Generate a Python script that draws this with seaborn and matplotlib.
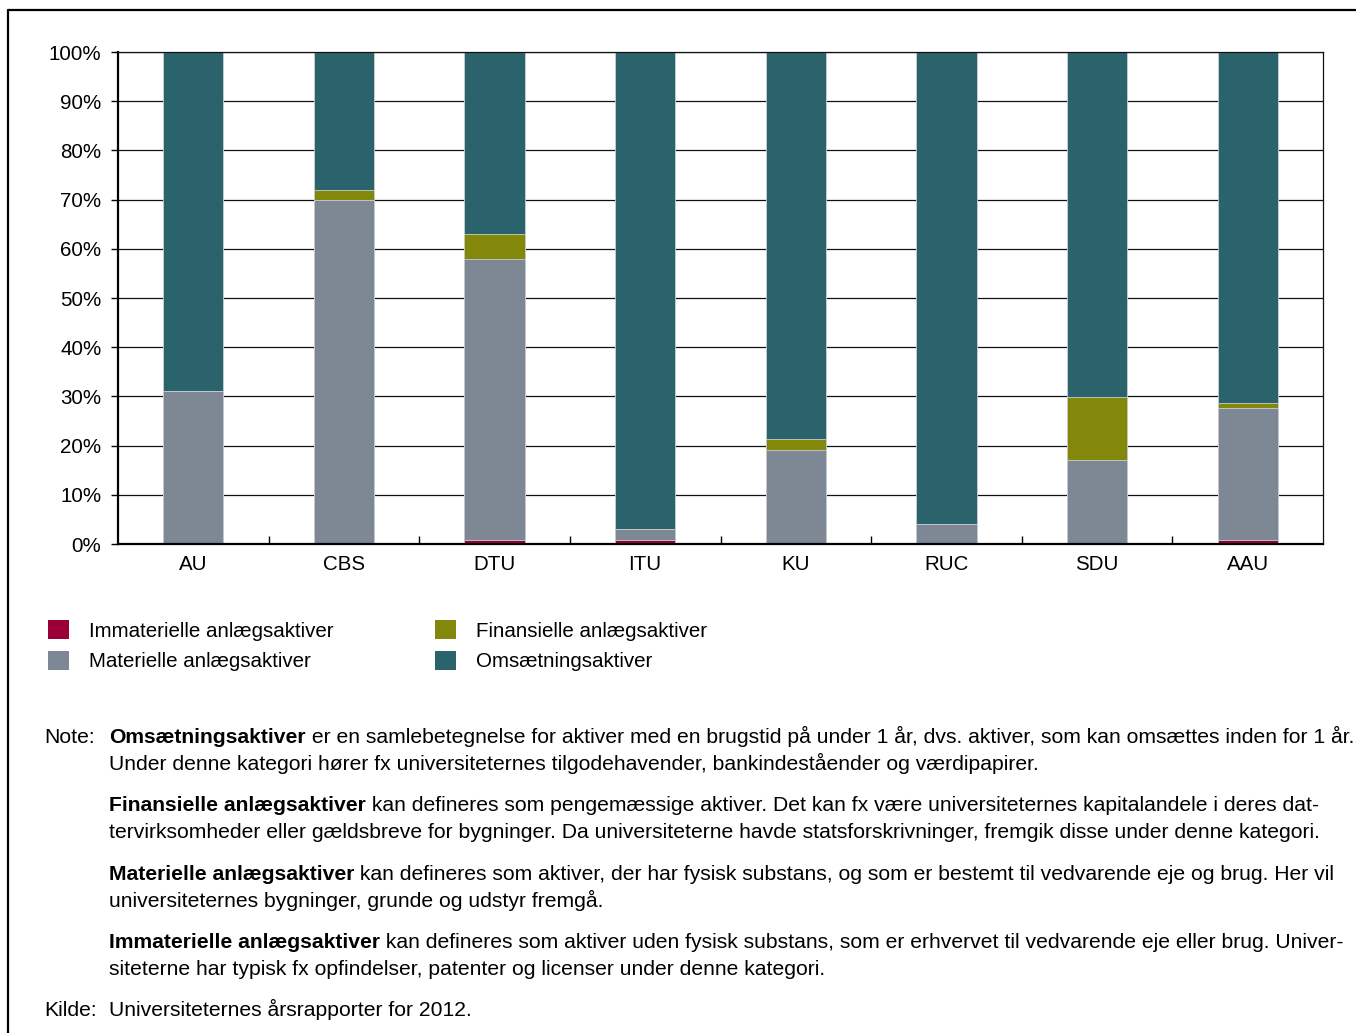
import pandas as pd
import matplotlib
matplotlib.use("Agg")
import matplotlib.pyplot as plt
import seaborn as sns
from matplotlib.patches import Patch
from matplotlib.lines import Line2D
from matplotlib.ticker import FixedLocator

# Data (share of total assets, %)
universities = ["AU", "CBS", "DTU", "ITU", "KU", "RUC", "SDU", "AAU"]
immaterielle = [0, 0, 0.9, 0.9, 0, 0, 0, 0.9]
materielle = [31.1, 69.9, 57.0, 2.1, 19.1, 4.1, 17.0, 26.8]
finansielle = [0, 2.1, 5.1, 0, 2.2, 0, 12.9, 1.0]
omsaetning = [68.9, 28.0, 37.0, 97.0, 78.7, 95.9, 70.1, 71.3]

series_names = ["Immaterielle anlægsaktiver", "Materielle anlægsaktiver",
                "Finansielle anlægsaktiver", "Omsætningsaktiver"]
colors = ["#9a0036", "#7e8794", "#83870a", "#2a636c"]
y_labels = ["0%", "10%", "20%", "30%", "40%", "50%", "60%", "70%", "80%", "90%", "100%"]

sns.set_style("white")
plt.rcParams["font.family"] = ["Liberation Sans", "DejaVu Sans"]
plt.rcParams["text.color"] = "black"
plt.rcParams["xtick.color"] = "black"
plt.rcParams["ytick.color"] = "black"
plt.rcParams["axes.labelcolor"] = "black"

FS = 14.8
NFS = 15.2

df = pd.DataFrame({"uni": universities, "imm": immaterielle, "mat": materielle,
                   "fin": finansielle, "oms": omsaetning})
df["c_imm"] = df["imm"]
df["c_mat"] = df["c_imm"] + df["mat"]
df["c_fin"] = df["c_mat"] + df["fin"]
df["c_oms"] = df["c_fin"] + df["oms"]

fig = plt.figure(figsize=(13.56, 10.33), dpi=100)
ax = fig.add_axes([118 / 1356, 1 - 544 / 1033, (1323 - 118) / 1356, (544 - 52) / 1033])

# stacked bars: draw cumulative totals from top layer down
for col, c in zip(["c_oms", "c_fin", "c_mat", "c_imm"], colors[::-1]):
    sns.barplot(data=df, x="uni", y=col, color=c, width=0.4, ax=ax,
                edgecolor="#c9ced4", linewidth=0.6, saturation=1)

ax.set_axisbelow(True)
ax.set_ylim(0, 100)
ax.set_xlim(-0.5, 7.5)
ax.yaxis.set_major_locator(FixedLocator(range(0, 101, 10)))
ax.set_yticklabels(y_labels)
ax.yaxis.grid(True, color="#111111", linewidth=0.9)
ax.set_xlabel("")
ax.set_ylabel("")

ax.tick_params(axis="y", which="major", direction="out", length=5, width=1,
               color="black", pad=7, labelsize=FS, left=True, labelcolor="black")
ax.tick_params(axis="x", which="major", length=0, pad=8, labelsize=FS, labelcolor="black")
ax.xaxis.set_minor_locator(FixedLocator([i + 0.5 for i in range(7)]))
ax.tick_params(axis="x", which="minor", direction="in", length=6, width=1,
               color="black", bottom=True)

for s in ["left", "bottom"]:
    ax.spines[s].set_linewidth(1.6)
    ax.spines[s].set_color("black")
for s in ["right", "top"]:
    ax.spines[s].set_linewidth(0.9)
    ax.spines[s].set_color("#111111")

# legend
handles = [Patch(facecolor=c, edgecolor="none") for c in colors]
fig.legend(handles, series_names, loc="upper left",
           bbox_to_anchor=(40 / 1356, 1 - 612 / 1033), ncol=2, frameon=False,
           fontsize=FS, handlelength=1.02, handleheight=1.02,
           handletextpad=0.95, labelspacing=0.5, columnspacing=4.95,
           borderaxespad=0)

# outer frame (top and left only visible)
fig.add_artist(Line2D([8 / 1356, 8 / 1356], [0, 1 - 10 / 1033], color="black",
                      linewidth=1.6, transform=fig.transFigure))
fig.add_artist(Line2D([8 / 1356, 1], [1 - 10 / 1033, 1 - 10 / 1033], color="black",
                      linewidth=1.6, transform=fig.transFigure))

# note text with bold run (baseline aligned)
renderer = fig.canvas.get_renderer()
x0 = 109 / 1356


def note_line(y_px, bold, rest):
    y = 1 - (y_px + 6) / 1033
    x = x0
    if bold:
        t = fig.text(x, y, bold, fontsize=NFS, fontweight="bold", va="baseline", ha="left")
        bb = t.get_window_extent(renderer=renderer)
        x = bb.x1 / fig.bbox.width
    fig.text(x, y, rest, fontsize=NFS, va="baseline", ha="left")


fig.text(44 / 1356, 1 - 743 / 1033, "Note:", fontsize=NFS, va="baseline", ha="left")
note_line(737, "Omsætningsaktiver", " er en samlebetegnelse for aktiver med en brugstid på under 1 år, dvs. aktiver, som kan omsættes inden for 1 år.")
note_line(764, "", "Under denne kategori hører fx universiteternes tilgodehavender, bankindeståender og værdipapirer.")
note_line(805, "Finansielle anlægsaktiver", " kan defineres som pengemæssige aktiver. Det kan fx være universiteternes kapitalandele i deres dat-")
note_line(832, "", "tervirksomheder eller gældsbreve for bygninger. Da universiteterne havde statsforskrivninger, fremgik disse under denne kategori.")
note_line(874, "Materielle anlægsaktiver", " kan defineres som aktiver, der har fysisk substans, og som er bestemt til vedvarende eje og brug. Her vil")
note_line(901, "", "universiteternes bygninger, grunde og udstyr fremgå.")
note_line(942, "Immaterielle anlægsaktiver", " kan defineres som aktiver uden fysisk substans, som er erhvervet til vedvarende eje eller brug. Univer-")
note_line(969, "", "siteterne har typisk fx opfindelser, patenter og licenser under denne kategori.")
fig.text(44 / 1356, 1 - 1016 / 1033, "Kilde:", fontsize=NFS, va="baseline", ha="left")
note_line(1010, "", "Universiteternes årsrapporter for 2012.")

fig.savefig("out.png", dpi=100)
